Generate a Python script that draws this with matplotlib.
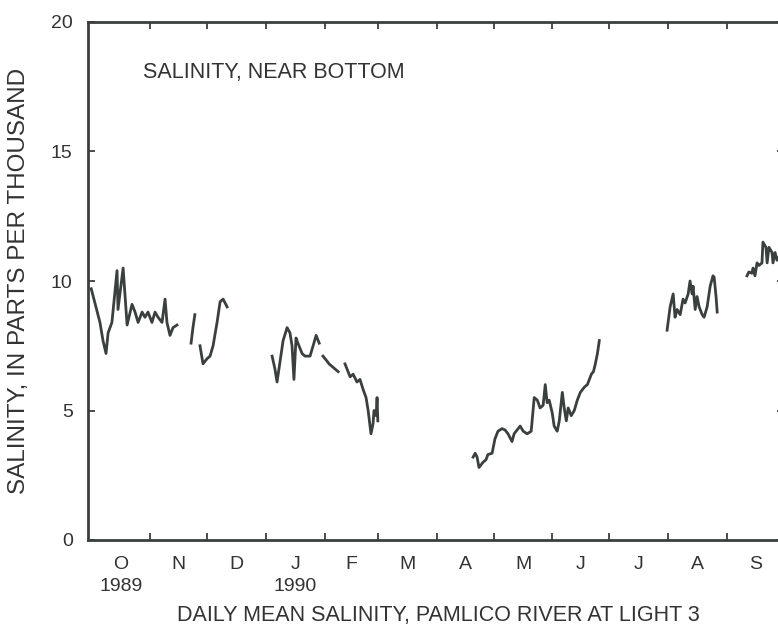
import numpy as np
import matplotlib.pyplot as plt

# days since 1 Oct 1989, NaN marks a gap in the record
days = [0, 4.6, 6.2, 7.8, 8.9, 10.9, 13.6, 14.1, 16.8, 18.9, 21.5, 23.1, 24.7,
        26.8, 28.3, 29.9, 32.0, 33.6, 35.2, 37.3, 38.9, 39.9, 41.5, 43.1, 45.2,
        np.nan,
        52.6, 53.6, 54.6,
        np.nan,
        57.3, 58.9, 61.0, 62.6, 64.2, 66.3, 67.9, 69.5, 71.6,
        np.nan,
        95.3, 96.8, 97.9, 99.5, 101.1, 103.2, 104.7, 105.8, 106.8, 107.9, 108.9,
        111.1, 112.6, 115.3, 116.9, 118.5, 120.1,
        np.nan,
        122.1, 124.3, 125.3, 126.9, 128.5, 130.1,
        np.nan,
        133.7, 134.8, 136.4, 138.0, 140.0, 141.6, 143.3, 144.8, 145.9, 146.9,
        147.4, 148.5, 149.0, 150.1, 150.6, 151.0,
        np.nan,
        201.2, 202.3, 203.3, 204.3, 206.4, 208.0, 209.0, 211.2, 212.7, 214.3,
        216.4, 218.0, 219.6, 221.7, 222.8, 224.4, 226.0, 227.6, 229.7, 231.8,
        233.4, 235.0, 236.5, 238.1, 239.2, 240.2, 241.3, 242.9, 243.9, 245.5,
        246.6, 248.2, 249.2, 250.3, 251.3, 252.9, 254.5, 256.1, 257.7, 259.8,
        261.4, 263.5, 264.6, 265.6, 266.7, 267.7,
        np.nan,
        303.4, 305.0, 306.6, 307.6, 308.7, 310.3, 311.8, 312.9, 314.5, 315.5,
        316.6, 317.1, 318.2, 319.2, 320.3, 321.9, 322.9, 324.5, 326.1, 327.6,
        328.2, 329.2, 329.8,
        np.nan,
        345.5, 346.5, 348.1, 348.7, 349.7, 350.8, 351.8, 353.4, 353.9, 355.5,
        356.1, 357.1, 358.7, 359.2, 360.3, 361.3, 362.8, 364.4]

salinity = [9.7, 8.4, 7.7, 7.2, 8.0, 8.4, 10.4, 8.9, 10.5, 8.3, 9.1, 8.8, 8.4,
            8.8, 8.6, 8.8, 8.4, 8.8, 8.6, 8.4, 9.3, 8.4, 7.9, 8.2, 8.3,
            np.nan,
            7.6, 8.2, 8.7,
            np.nan,
            7.5, 6.8, 7.0, 7.1, 7.5, 8.4, 9.2, 9.3, 9.0,
            np.nan,
            7.1, 6.6, 6.1, 6.9, 7.7, 8.2, 8.0, 7.5, 6.2, 7.8, 7.6,
            7.2, 7.1, 7.1, 7.5, 7.9, 7.6,
            np.nan,
            7.1, 6.9, 6.8, 6.7, 6.6, 6.5,
            np.nan,
            6.8, 6.6, 6.3, 6.4, 6.1, 6.2, 5.8, 5.5, 5.0, 4.4,
            4.1, 4.5, 5.0, 4.8, 5.5, 4.6,
            np.nan,
            3.2, 3.35, 3.2, 2.8, 3.0, 3.1, 3.3, 3.35, 3.9, 4.2,
            4.3, 4.25, 4.1, 3.8, 4.1, 4.25, 4.4, 4.2, 4.1, 4.2,
            5.5, 5.4, 5.1, 5.2, 6.0, 5.3, 5.4, 4.9, 4.4, 4.2,
            4.6, 5.7, 5.1, 4.6, 5.1, 4.8, 5.0, 5.4, 5.7, 5.9,
            6.0, 6.4, 6.5, 6.8, 7.2, 7.7,
            np.nan,
            8.1, 9.0, 9.5, 8.6, 8.9, 8.7, 9.3, 9.15, 9.5, 10.0,
            9.5, 9.8, 8.9, 9.4, 9.0, 8.7, 8.6, 9.0, 9.8, 10.2,
            10.15, 9.4, 8.8,
            np.nan,
            10.2, 10.35, 10.3, 10.5, 10.2, 10.7, 10.6, 10.7, 11.5, 11.3,
            10.7, 11.3, 11.1, 10.7, 11.1, 10.8, 11.0, 10.6]

month_labels = ['O', 'N', 'D', 'J', 'F', 'M', 'A', 'M', 'J', 'J', 'A', 'S']
month_lengths = [31, 30, 31, 31, 28, 31, 30, 31, 30, 31, 31, 30]

ink = '#3a403e'
txt = '#333333'
plt.rcParams['font.family'] = ['Liberation Sans', 'DejaVu Sans']

fig = plt.figure(figsize=(7.78, 6.29), dpi=100)
ax = fig.add_axes([88 / 778, 1 - 540 / 629, (784 - 88) / 778, (540 - 22) / 629])

ax.plot(days, salinity, color=ink, lw=2.0)

bounds = np.concatenate([[0], np.cumsum(month_lengths)])
centers = (bounds[:-1] + bounds[1:]) / 2

ax.set_xlim(-1.7, 365)
ax.set_ylim(0, 20)
ax.set_xticks(bounds[1:-1])
ax.set_xticklabels([])
ax.set_yticks([0, 5, 10, 15, 20])
ax.set_yticklabels(['0', '5', '10', '15', '20'], fontsize=14, color=txt)
ax.tick_params(direction='in', length=5, width=1.3, colors=ink,
               top=True, right=True, pad=11, labelcolor=txt)
for s in ax.spines.values():
    s.set_linewidth(2)
    s.set_color(ink)

for c, lab in zip(centers, month_labels):
    ax.text(c, -0.6, lab, ha='center', va='top', fontsize=14, color=txt)
ax.text(centers[0], -1.45, '1989', ha='center', va='top', fontsize=14, color=txt)
ax.text(centers[3], -1.45, '1990', ha='center', va='top', fontsize=14, color=txt)

ax.text(0.079, 0.902, 'SALINITY, NEAR BOTTOM', transform=ax.transAxes,
        fontsize=15.5, color=txt, va='center')

fig.text(438 / 778, 1 - 615 / 629, 'DAILY MEAN SALINITY, PAMLICO RIVER AT LIGHT 3',
         ha='center', va='center', fontsize=15.5, color=txt)
fig.text(19 / 778, 1 - 281 / 629, 'SALINITY, IN PARTS PER THOUSAND',
         ha='center', va='center', rotation=90, fontsize=17.5, color=txt)

fig.savefig('out.png', dpi=100)
